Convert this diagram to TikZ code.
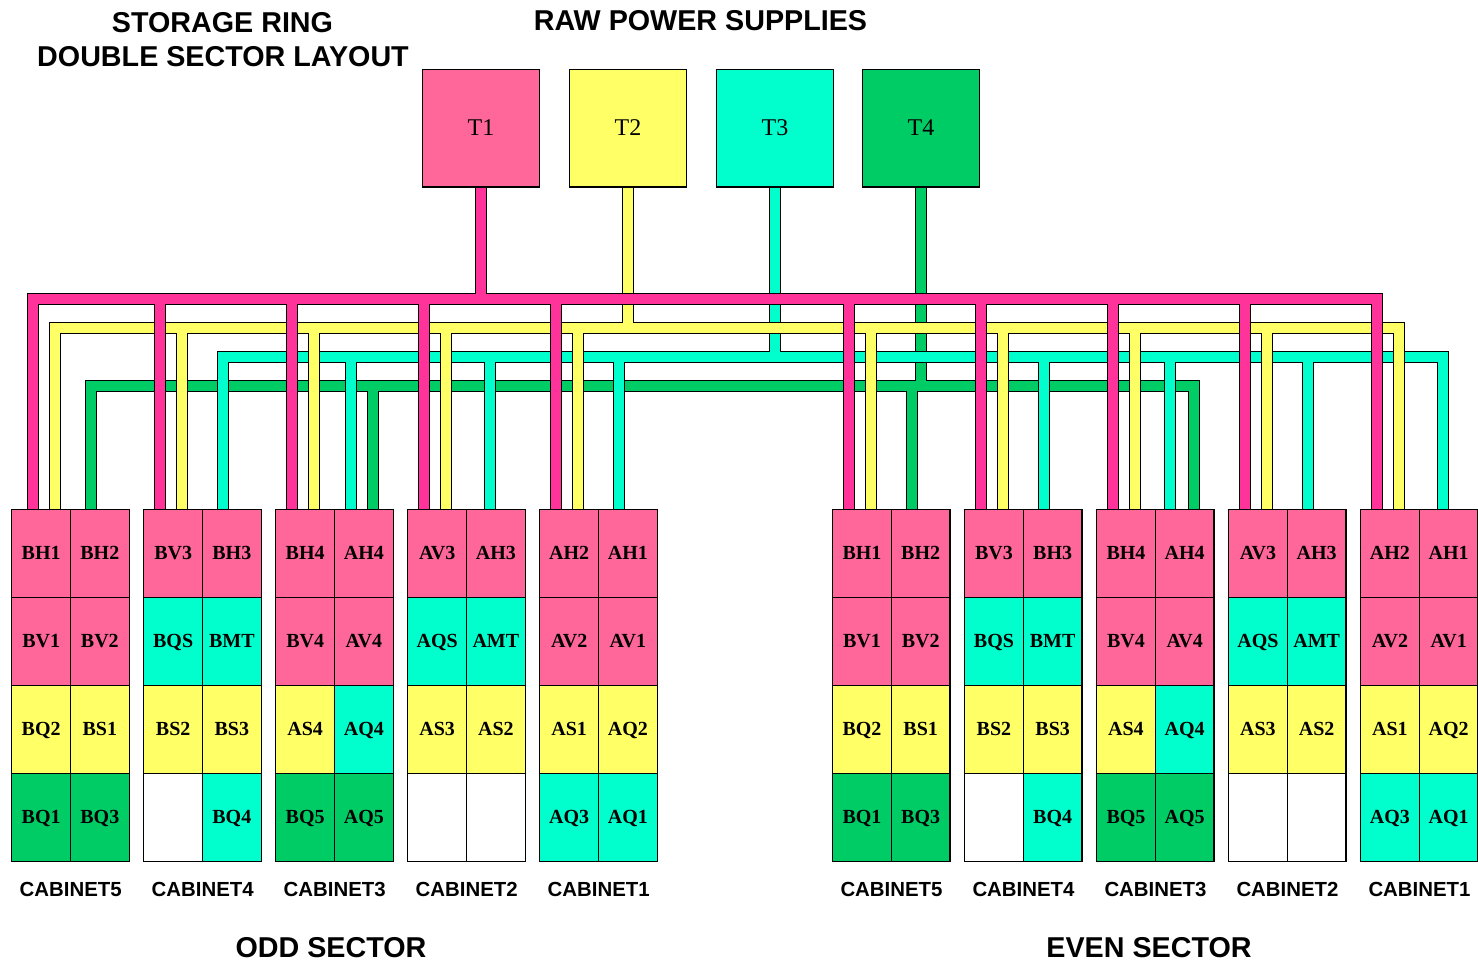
\documentclass[tikz,border=0pt]{standalone}
\usepackage{fontspec}
\setmainfont{Liberation Sans}
\newfontfamily\cellfont{Liberation Serif}
\definecolor{cpink}{HTML}{FF6699}
\definecolor{wpink}{HTML}{FF3399}
\definecolor{cyel}{HTML}{FFFF66}
\definecolor{ccya}{HTML}{00FFCC}
\definecolor{cgrn}{HTML}{00CC66}
\tikzset{
  wire/.style={draw=black,line width=1pt,double=#1,double distance=10pt,line join=miter},
  supply/.style={draw=black,line width=1.3pt,fill=#1,minimum width=117.5pt,minimum height=117.5pt,inner sep=0pt,
     font=\cellfont\fontsize{24pt}{26pt}\selectfont,text height=13.5pt,text depth=0pt},
  cell/.style={draw=black,line width=1.2pt,fill=#1,minimum width=58.7pt,minimum height=88pt,inner sep=0pt,
     font=\cellfont\bfseries\fontsize{20pt}{22pt}\selectfont,text height=11pt,text depth=0pt},
  cablabel/.style={font=\bfseries\fontsize{20.4pt}{22pt}\selectfont,inner sep=0pt,text height=10pt,text depth=0pt},
  heading/.style={font=\bfseries\fontsize{28.7pt}{30pt}\selectfont,inner sep=0pt,text height=14pt,text depth=0pt}
}
% one row of one cabinet: sector prefix, cabinet no, left x, row no, centre y, colours and texts
\newcommand{\cellpair}[9]{%
  \node[cell=#6] (#1c#2r#4l) at (#3+29.35,#5) {#7};
  \node[cell=#8] (#1c#2r#4r) at (#3+88.05,#5) {#9};
}
\newcommand{\sectorcab}[2]{%
  % cabinet 5
  \cellpair{#1}{5}{#2}{1}{553.5}{cpink}{BH1}{cpink}{BH2}
  \cellpair{#1}{5}{#2}{2}{641.5}{cpink}{BV1}{cpink}{BV2}
  \cellpair{#1}{5}{#2}{3}{729.5}{cyel}{BQ2}{cyel}{BS1}
  \cellpair{#1}{5}{#2}{4}{817.5}{cgrn}{BQ1}{cgrn}{BQ3}
  % cabinet 4
  \cellpair{#1}{4}{#2+132}{1}{553.5}{cpink}{BV3}{cpink}{BH3}
  \cellpair{#1}{4}{#2+132}{2}{641.5}{ccya}{BQS}{ccya}{BMT}
  \cellpair{#1}{4}{#2+132}{3}{729.5}{cyel}{BS2}{cyel}{BS3}
  \cellpair{#1}{4}{#2+132}{4}{817.5}{white}{}{ccya}{BQ4}
  % cabinet 3
  \cellpair{#1}{3}{#2+264}{1}{553.5}{cpink}{BH4}{cpink}{AH4}
  \cellpair{#1}{3}{#2+264}{2}{641.5}{cpink}{BV4}{cpink}{AV4}
  \cellpair{#1}{3}{#2+264}{3}{729.5}{cyel}{AS4}{ccya}{AQ4}
  \cellpair{#1}{3}{#2+264}{4}{817.5}{cgrn}{BQ5}{cgrn}{AQ5}
  % cabinet 2
  \cellpair{#1}{2}{#2+396}{1}{553.5}{cpink}{AV3}{cpink}{AH3}
  \cellpair{#1}{2}{#2+396}{2}{641.5}{ccya}{AQS}{ccya}{AMT}
  \cellpair{#1}{2}{#2+396}{3}{729.5}{cyel}{AS3}{cyel}{AS2}
  \cellpair{#1}{2}{#2+396}{4}{817.5}{white}{}{white}{}
  % cabinet 1
  \cellpair{#1}{1}{#2+528}{1}{553.5}{cpink}{AH2}{cpink}{AH1}
  \cellpair{#1}{1}{#2+528}{2}{641.5}{cpink}{AV2}{cpink}{AV1}
  \cellpair{#1}{1}{#2+528}{3}{729.5}{cyel}{AS1}{cyel}{AQ2}
  \cellpair{#1}{1}{#2+528}{4}{817.5}{ccya}{AQ3}{ccya}{AQ1}
  % labels
  \node[cablabel] (#1l5) at (#2+58.9,891) {CABINET5};
  \node[cablabel] (#1l4) at (#2+190.9,891) {CABINET4};
  \node[cablabel] (#1l3) at (#2+322.9,891) {CABINET3};
  \node[cablabel] (#1l2) at (#2+454.9,891) {CABINET2};
  \node[cablabel] (#1l1) at (#2+586.9,891) {CABINET1};
}
\begin{document}
\begin{tikzpicture}[x=1pt,y=-1pt]
\useasboundingbox (0,0) rectangle (1478,962);
% titles
\node[heading] (t1) at (222.5,25) {STORAGE RING};
\node[heading] (t2) at (223,59) {DOUBLE SECTOR LAYOUT};
\node[heading] (t3) at (700.5,23) {RAW POWER SUPPLIES};
\node[heading] (t4) at (331,950) {ODD SECTOR};
\node[heading] (t5) at (1149,950) {EVEN SECTOR};
% supplies
\node[supply=cpink] (T1) at (481,128.25) {T1};
\node[supply=cyel] (T2) at (628,128.25) {T2};
\node[supply=ccya] (T3) at (775,128.25) {T3};
\node[supply=cgrn] (T4) at (921,128.25) {T4};
% bus and drop points
\foreach \i/\x in {1/33,2/160,3/292,4/424,5/556,6/849,7/981,8/1113,9/1245,10/1377}{
  \coordinate (pu\i) at (\x,299); \coordinate (pd\i) at (\x,510);}
\foreach \i/\x in {1/55,2/182,3/314,4/446,5/578,6/871,7/1003,8/1135,9/1267,10/1399}{
  \coordinate (yu\i) at (\x,328); \coordinate (yd\i) at (\x,510);}
\foreach \i/\x in {1/223,2/351,3/490,4/619,5/1044,6/1170,7/1308,8/1443}{
  \coordinate (cu\i) at (\x,357); \coordinate (cd\i) at (\x,510);}
\foreach \i/\x in {1/91,2/373,3/912,4/1194}{
  \coordinate (gu\i) at (\x,386); \coordinate (gd\i) at (\x,510);}
% wires, lowest first
\draw[wire=cgrn] (T4.south) -- (T4.south |- gu1) (gd1) -- (gu1) -- (gu4) -- (gd4)
  \foreach \i in {2,3}{ (gu\i) -- (gd\i) };
\draw[wire=ccya] (T3.south) -- (T3.south |- cu1) (cd1) -- (cu1) -- (cu8) -- (cd8)
  \foreach \i in {2,...,7}{ (cu\i) -- (cd\i) };
\draw[wire=cyel] (T2.south) -- (T2.south |- yu1) (yd1) -- (yu1) -- (yu10) -- (yd10)
  \foreach \i in {2,...,9}{ (yu\i) -- (yd\i) };
\draw[wire=wpink] (T1.south) -- (T1.south |- pu1) (pd1) -- (pu1) -- (pu10) -- (pd10)
  \foreach \i in {2,...,9}{ (pu\i) -- (pd\i) };
% cabinets
\sectorcab{o}{11.8}
\sectorcab{e}{832.6}
\end{tikzpicture}
\end{document}
